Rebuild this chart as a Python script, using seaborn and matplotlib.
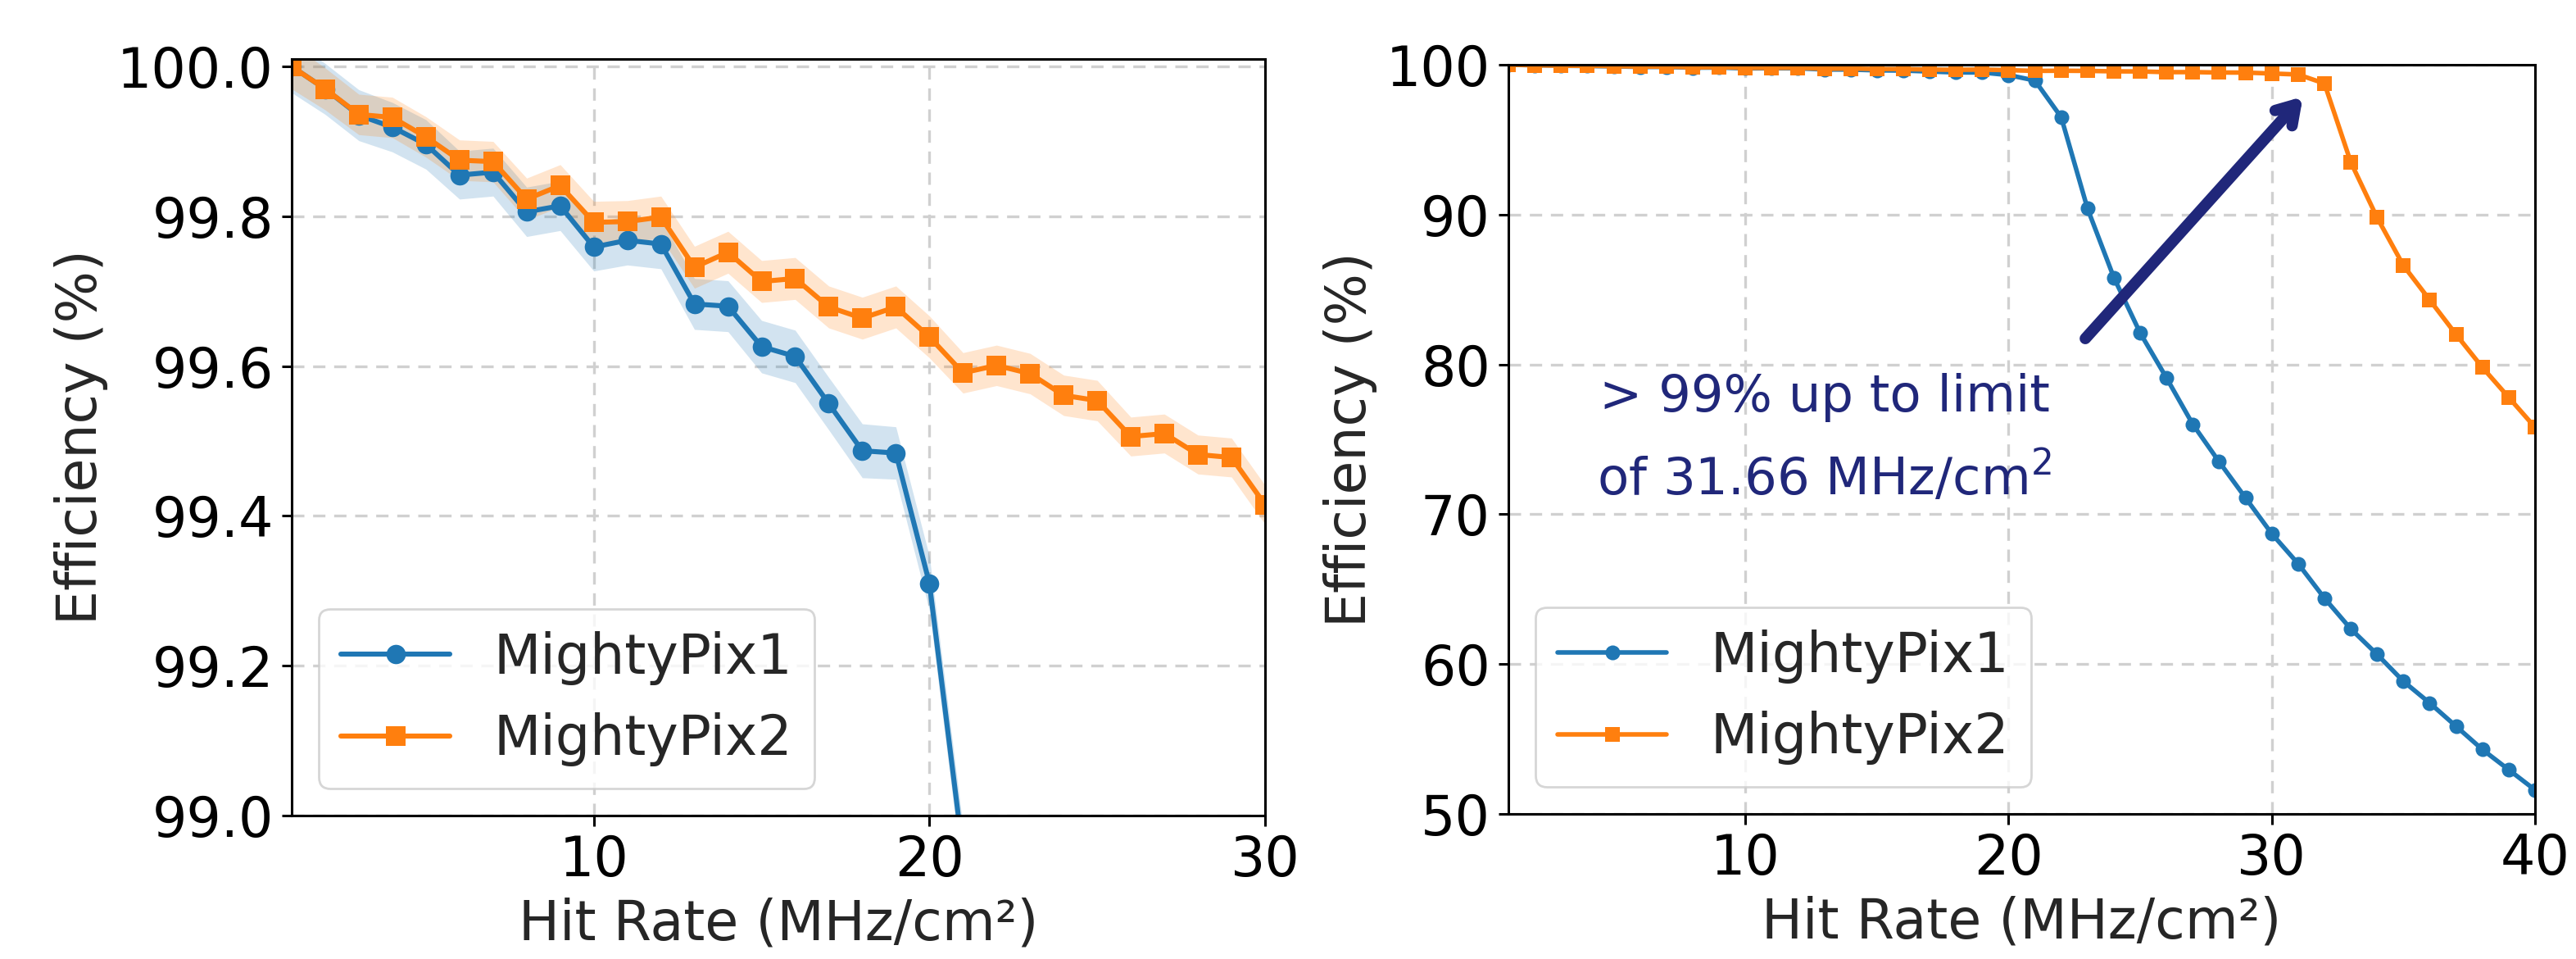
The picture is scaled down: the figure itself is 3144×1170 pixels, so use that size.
import numpy as np
import pandas as pd
import matplotlib
matplotlib.use("Agg")
import matplotlib.pyplot as plt
import seaborn as sns

# hit rate in MHz/cm^2
hit_rate = list(range(1, 41))

# efficiency (%)
mp1_eff = [100.0, 99.970, 99.935, 99.919, 99.896, 99.855, 99.859, 99.806, 99.814, 99.759,
           99.768, 99.763, 99.683, 99.680, 99.626, 99.613, 99.550, 99.487, 99.484, 99.310,
           98.95, 96.5, 90.4, 85.8, 82.1, 79.1, 76.0, 73.5, 71.1, 68.7,
           66.7, 64.4, 62.35, 60.65, 58.85, 57.4, 55.85, 54.3, 52.95, 51.6]
mp2_eff = [100.0, 99.970, 99.936, 99.932, 99.906, 99.875, 99.873, 99.823, 99.841, 99.792,
           99.793, 99.799, 99.732, 99.752, 99.713, 99.717, 99.679, 99.664, 99.679, 99.639,
           99.591, 99.601, 99.590, 99.561, 99.554, 99.506, 99.510, 99.482, 99.478, 99.415,
           99.35, 98.75, 93.5, 89.8, 86.6, 84.3, 82.0, 79.8, 77.8, 75.8]

# uncertainty bands (left panel)
mp1_err = [0.035, 0.034, 0.034, 0.033, 0.033, 0.032, 0.032, 0.033, 0.033, 0.032,
           0.033, 0.033, 0.034, 0.034, 0.035, 0.035, 0.035, 0.036, 0.035, 0.036, 0.036]
mp2_err = [0.030, 0.028, 0.027, 0.027, 0.027, 0.027, 0.027, 0.028, 0.028, 0.028,
           0.028, 0.028, 0.028, 0.028, 0.028, 0.028, 0.028, 0.028, 0.028, 0.028,
           0.027, 0.027, 0.027, 0.027, 0.027, 0.026, 0.026, 0.026, 0.026, 0.026]

labels = ["MightyPix1", "MightyPix2"]
colors = ["#1f77b4", "#ff7f0e"]
markers = ["o", "s"]

sns.set_style("ticks")
plt.rcParams["font.family"] = ["DejaVu Sans"]
plt.rcParams["axes.edgecolor"] = "black"
plt.rcParams["axes.linewidth"] = 1.1
plt.rcParams["xtick.color"] = "black"
plt.rcParams["ytick.color"] = "black"

FS = 24

df = pd.DataFrame({"hit": hit_rate, labels[0]: mp1_eff, labels[1]: mp2_eff})

fig = plt.figure(figsize=(15.72, 5.85), dpi=200)
ax1 = fig.add_axes([356 / 3144, 1 - 995 / 1170, (1544 - 356) / 3144, (995 - 72) / 1170])
ax2 = fig.add_axes([1841 / 3144, 1 - 993 / 1170, (3094 - 1841) / 3144, (993 - 79) / 1170])

errs = [mp1_err, mp2_err]
for ax, ms, lw in [(ax1, 8.5, 2.2), (ax2, 6.5, 2.0)]:
    for lab, col, mk, err in zip(labels, colors, markers, errs):
        if ax is ax1:
            n = len(err)
            y = np.array(df[lab][:n])
            e = np.array(err)
            ax.fill_between(df["hit"][:n], y - e, y + e, color=col, alpha=0.2, lw=0)
        sns.lineplot(data=df, x="hit", y=lab, ax=ax, color=col, marker=mk,
                     markersize=ms, markeredgewidth=0, lw=lw, label=lab)
    ax.grid(True, color="#d0d0d0", linestyle=(0, (4.5, 3.2)), lw=1.2)
    ax.set_axisbelow(True)
    ax.set_xlabel("Hit Rate (MHz/cm²)", fontsize=FS)
    ax.set_ylabel("Efficiency (%)", fontsize=FS)
    ax.tick_params(labelsize=FS, length=4.5, width=1.1)
    ax.legend(loc="lower left", fontsize=FS)

ax1.set_xlim(1, 30)
ax1.set_xticks([10, 20, 30])
ax1.set_ylim(99.0, 100.01)
ax1.set_yticks(np.arange(99.0, 100.01, 0.2))
ax1.set_yticklabels([f"{v:.1f}" for v in np.arange(99.0, 100.01, 0.2)])

ax2.set_xlim(1, 40)
ax2.set_xticks([10, 20, 30, 40])
ax2.set_ylim(50, 100)
ax2.set_yticks([50, 60, 70, 80, 90, 100])

navy = "#20277a"
ax2.annotate("", xy=(31.3, 98.1), xytext=(22.8, 81.5),
             arrowprops=dict(arrowstyle="->, head_length=0.8, head_width=0.5",
                             lw=5, color=navy, capstyle="round"))
ax2.text(13.0, 75.0, "> 99% up to limit\nof 31.66 MHz/cm$^2$", color=navy,
         fontsize=22.5, ha="center", va="center", linespacing=1.6)

fig.savefig("out.png", dpi=200)
